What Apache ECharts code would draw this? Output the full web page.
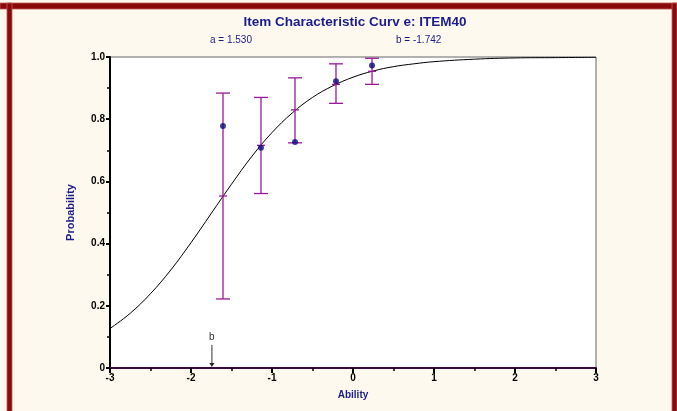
<!DOCTYPE html>
<html><head><meta charset="utf-8">
<script src="https://cdn.jsdelivr.net/npm/echarts@6/dist/echarts.min.js"></script>
<style>html,body{margin:0;padding:0;background:#FEF9EE;}#c{width:677px;height:411px;}</style>
</head><body><div id="c"></div>
<script>
// ---- data ----
var titleText = 'Item Characteristic Curv e: ITEM40';
var paramA = '1.530';
var paramB = -1.742;
var xTicks = [-3, -2, -1, 0, 1, 2, 3];
var yTicks = [0, 0.2, 0.4, 0.6, 0.8, 1.0];
// fitted curve
var curveX = [-3, -2.75, -2.5, -2.25, -2, -1.75, -1.5, -1.25, -1, -0.75, -0.5, -0.25, 0, 0.25, 0.5, 0.75, 1, 1.5, 2, 2.5, 3];
var curveY = [0.127, 0.176, 0.239, 0.315, 0.403, 0.497, 0.591, 0.680, 0.757, 0.820, 0.870, 0.907, 0.935, 0.955, 0.969, 0.978, 0.985, 0.993, 0.997, 0.998, 0.999];
// observed groups
var barX = [-1.605, -1.136, -0.716, -0.210, 0.235];
var barObs = [0.778, 0.708, 0.727, 0.922, 0.973];
var barLow = [0.222, 0.561, 0.724, 0.851, 0.912];
var barHigh = [0.884, 0.870, 0.933, 0.978, 0.996];
var barFit = [0.553, 0.716, 0.830, 0.912, 0.954];

var curveData = curveX.map(function (x, i) { return [x, curveY[i]]; });
var dotData = barX.map(function (x, i) { return [x, barObs[i]]; });
var errData = barX.map(function (x, i) { return [x, barLow[i], barHigh[i], barFit[i]]; });

var chart = echarts.init(document.getElementById('c'));
var navy = '#1C1C8C';
var purple = '#9A189A';
chart.setOption({
  backgroundColor: '#FEF9EE',
  animation: false,
  title: {
    text: titleText, left: 350, top: 10, textAlign: 'center',
    textStyle: { fontFamily: 'Liberation Sans', fontSize: 13.5, fontWeight: 'bold', color: navy }
  },
  grid: { left: 110, right: 81, top: 57, bottom: 43, show: true, borderColor: '#666', borderWidth: 1, backgroundColor: '#FFFFFF' },
  xAxis: {
    type: 'value', min: -3, max: 3, interval: 1,
    name: 'Ability', nameLocation: 'middle', nameGap: 22,
    nameTextStyle: { fontFamily: 'Liberation Sans', fontSize: 10, fontWeight: 'bold', color: navy },
    axisLine: { onZero: false, lineStyle: { color: '#3A0A40', width: 2 } },
    axisTick: { show: true, length: 5, lineStyle: { color: '#000', width: 2 } },
    minorTick: { show: true, splitNumber: 2, length: 3, lineStyle: { color: '#000', width: 1.5 } },
    axisLabel: { fontFamily: 'Liberation Sans', fontSize: 10, fontWeight: 'bold', color: '#000', margin: 5,
      formatter: function (v) { return String(v); } },
    splitLine: { show: false }
  },
  yAxis: {
    type: 'value', min: 0, max: 1, interval: 0.2,
    name: 'Probability', nameLocation: 'middle', nameGap: 34, nameRotate: 90,
    nameTextStyle: { fontFamily: 'Liberation Sans', fontSize: 11, fontWeight: 'bold', color: navy },
    axisLine: { onZero: false, lineStyle: { color: '#000', width: 2 } },
    axisTick: { show: true, length: 4, lineStyle: { color: '#000', width: 2 } },
    minorTick: { show: true, splitNumber: 2, length: 3, lineStyle: { color: '#000', width: 1.5 } },
    axisLabel: { fontFamily: 'Liberation Sans', fontSize: 10, fontWeight: 'bold', color: '#000', margin: 5,
      formatter: function (v) { return v === 0 ? '0' : v.toFixed(1); } },
    splitLine: { show: false }
  },
  series: [
    {
      type: 'line', data: curveData, smooth: 0.4, symbol: 'none', z: 3,
      lineStyle: { color: '#000', width: 1 }
    },
    {
      type: 'custom', data: errData, z: 4,
      renderItem: function (params, api) {
        var x = api.value(0);
        var lo = api.coord([x, api.value(1)]);
        var hi = api.coord([x, api.value(2)]);
        var fit = api.coord([x, api.value(3)]);
        var cw = 7, fw = 4;
        var st = { stroke: purple, lineWidth: 1.3 };
        return {
          type: 'group', children: [
            { type: 'line', shape: { x1: lo[0], y1: lo[1], x2: hi[0], y2: hi[1] }, style: st },
            { type: 'line', shape: { x1: lo[0] - cw, y1: lo[1], x2: lo[0] + cw, y2: lo[1] }, style: st },
            { type: 'line', shape: { x1: hi[0] - cw, y1: hi[1], x2: hi[0] + cw, y2: hi[1] }, style: st },
            { type: 'line', shape: { x1: fit[0] - fw, y1: fit[1], x2: fit[0] + fw, y2: fit[1] }, style: st }
          ]
        };
      }
    },
    {
      type: 'scatter', data: dotData, symbol: 'circle', symbolSize: 6, z: 5,
      itemStyle: { color: '#0A0A80' }
    },
    {
      type: 'custom', data: [[paramB, 0]], z: 6, clip: false,
      renderItem: function (params, api) {
        var p = api.coord([api.value(0), api.value(1)]);
        return {
          type: 'group', children: [
            { type: 'line', shape: { x1: p[0], y1: p[1] - 23, x2: p[0], y2: p[1] - 3 }, style: { stroke: '#555', lineWidth: 1.2 } },
            { type: 'polygon', shape: { points: [[p[0] - 2.5, p[1] - 5], [p[0] + 2.5, p[1] - 5], [p[0], p[1] - 1]] }, style: { fill: '#222' } },
            { type: 'text', x: p[0], y: p[1] - 26, style: { text: 'b', fill: '#333', font: '10px "Liberation Sans"', align: 'center', verticalAlign: 'bottom' } }
          ]
        };
      }
    }
  ],
  graphic: [
    { type: 'text', left: 210, top: 35, style: { text: 'a = ' + paramA, fill: navy, font: '10px "Liberation Sans"' } },
    { type: 'text', left: 396, top: 35, style: { text: 'b = ' + paramB.toFixed(3), fill: navy, font: '10px "Liberation Sans"' } },
    { type: 'rect', shape: { x: 0, y: 3, width: 677, height: 6 }, style: { fill: '#8A0A0A', stroke: '#C05858', lineWidth: 0.8 } },
    { type: 'rect', shape: { x: 7, y: 3, width: 5, height: 411 }, style: { fill: '#8A0A0A', stroke: '#C05858', lineWidth: 0.8 } },
    { type: 'rect', shape: { x: 672, y: 3, width: 5, height: 411 }, style: { fill: '#8A0A0A', stroke: '#C05858', lineWidth: 0.8 } }
  ]
});
</script></body></html>
